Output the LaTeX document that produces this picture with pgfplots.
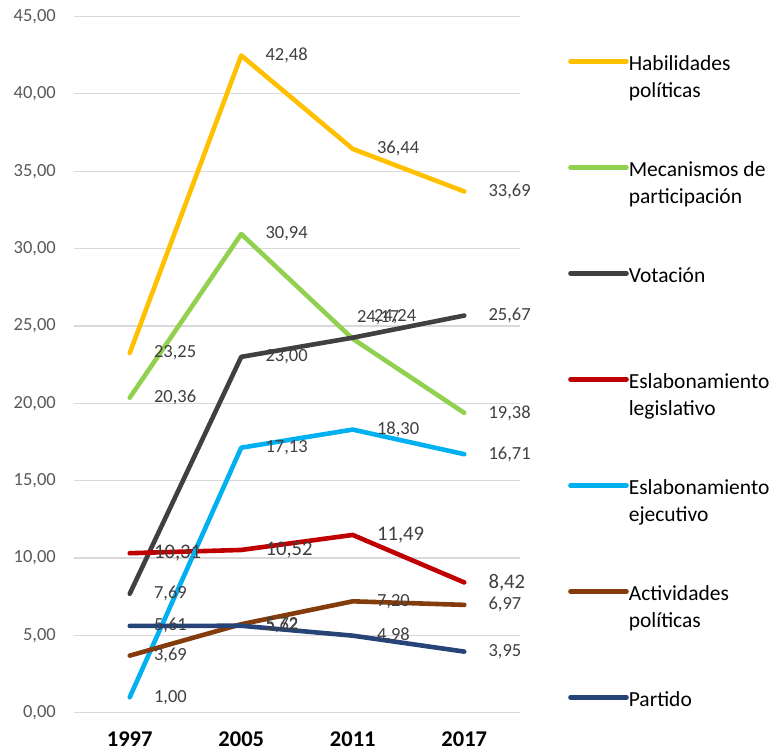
\documentclass[border=0pt]{standalone}
\usepackage{pgfplots}
\pgfplotsset{compat=1.18}
\usepackage{fontspec}
\setmainfont{Carlito}
\definecolor{chab}{HTML}{FFC000}
\definecolor{cmec}{HTML}{92D050}
\definecolor{cvot}{HTML}{404040}
\definecolor{cleg}{HTML}{C00000}
\definecolor{ceje}{HTML}{00B0F0}
\definecolor{cact}{HTML}{843C0C}
\definecolor{cpar}{HTML}{264478}
\definecolor{gridc}{HTML}{D9D9D9}
\definecolor{tickc}{HTML}{595959}
\definecolor{labc}{HTML}{404040}
\newcommand{\ltwo}[2]{\begin{tabular}[t]{@{}l@{}}#1\\#2\end{tabular}}
\newcommand{\lone}[1]{\begin{tabular}[t]{@{}l@{}}#1\end{tabular}}
\begin{document}
\begin{tikzpicture}
\begin{axis}[
  scale only axis, width=446pt, height=696.2pt,
  xmin=-0.5, xmax=3.5, ymin=0, ymax=45,
  xtick={0,1,2,3}, xticklabels={1997,2005,2011,2017},
  ytick={0,5,...,45},
  ymajorgrids, grid style={draw=gridc, line width=1.3pt},
  axis line style={draw=none},
  major tick length=0pt, tick style={draw=none},
  clip=false,
  /pgf/number format/.cd, fixed, fixed zerofill, precision=2, use comma, assume math mode=true,
  /pgfplots/.cd,
  yticklabel style={font=\fontsize{18.5}{20}\selectfont, text=tickc, inner sep=0pt, anchor=east, xshift=-18pt},
  xticklabel style={font=\bfseries\fontsize{22.5}{24}\selectfont, text=black, inner sep=0pt, anchor=north, yshift=-18.5pt},
  every axis plot/.append style={line width=4.6pt, line join=round, line cap=round, mark=none},
  nodes near coords,
  every node near coord/.append style={anchor=west, inner sep=0pt, xshift=22pt, font=\fontsize{18.5}{20}\selectfont, text=labc},
  legend style={draw=none, fill=none, inner sep=0pt, row sep=85.6pt,
    at={(rel axis cs:1.1076,0.9504)}, anchor=north west,
    font=\fontsize{21.5}{27}\selectfont, text=black,
    nodes={inner sep=0pt}},
  legend cell align=left,
  legend image code/.code={\draw[#1, line cap=round, line width=5pt] (2.5pt,0pt) -- (52.5pt,0pt); \path (0pt,0pt) -- (56pt,0pt);},
]
\addplot[chab] coordinates {(0,23.25) (1,42.48) (2,36.44) (3,33.69)};
\addlegendentry{\ltwo{Habilidades}{políticas}}
\addplot[cmec, coordinate style/.condition={x==2}{xshift=-20pt, yshift=21pt}] coordinates {(0,20.36) (1,30.94) (2,24.17) (3,19.38)};
\addlegendentry{\ltwo{Mecanismos de}{participación}}
\addplot[cvot, coordinate style/.condition={x==2}{xshift=-3pt, yshift=21pt}] coordinates {(0,7.69) (1,23.00) (2,24.24) (3,25.67)};
\addlegendentry{\lone{Votación}}
\addplot[cleg, every node near coord/.append style={font=\fontsize{20.7}{22}\selectfont}] coordinates {(0,10.31) (1,10.52) (2,11.49) (3,8.42)};
\addlegendentry{\ltwo{Eslabonamiento}{legislativo}}
\addplot[ceje] coordinates {(0,1.00) (1,17.13) (2,18.30) (3,16.71)};
\addlegendentry{\ltwo{Eslabonamiento}{ejecutivo}}
\addplot[cact] coordinates {(0,3.69) (1,5.72) (2,7.20) (3,6.97)};
\addlegendentry{\ltwo{Actividades}{políticas}}
\addplot[cpar] coordinates {(0,5.61) (1,5.62) (2,4.98) (3,3.95)};
\addlegendentry{\lone{Partido}}
\coordinate (bbsw) at (rel axis cs:-0.1659,-0.0536);
\coordinate (bbne) at (rel axis cs:1.565,1.0237);
\end{axis}
\path (bbsw) rectangle (bbne);
\end{tikzpicture}
\end{document}
